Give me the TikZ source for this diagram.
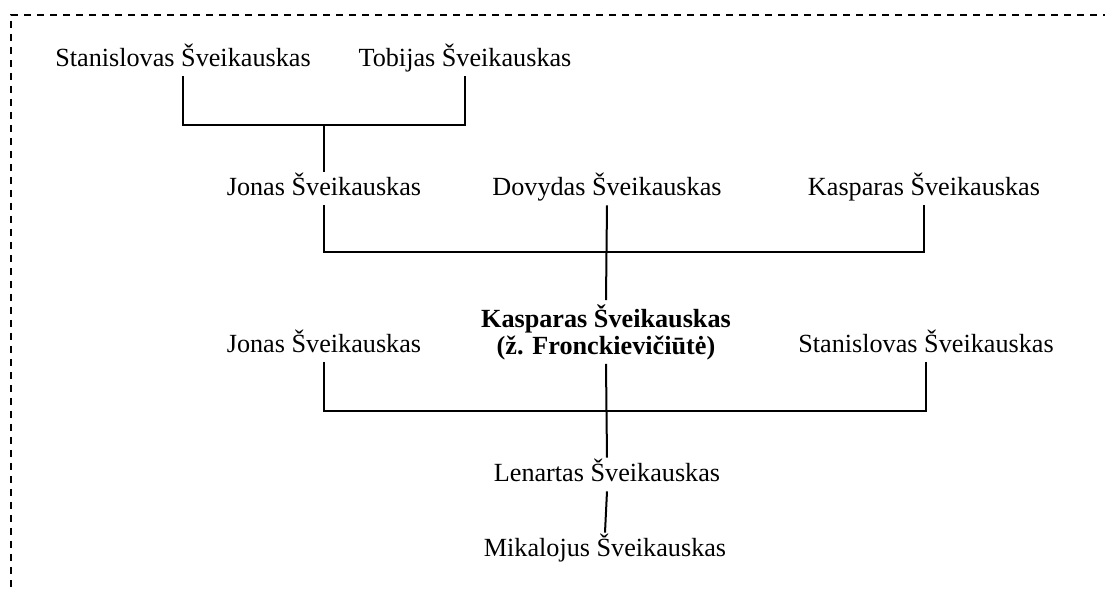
\documentclass[tikz,border=0pt]{standalone}
\usepackage{fontspec}
\setmainfont{Liberation Serif}
\begin{document}
\begin{tikzpicture}[x=0.5pt,y=-0.5pt,
    person/.style={anchor=base,inner sep=0pt,text height=12pt,text depth=4.5pt,
      font=\fontsize{13.1}{13.5}\selectfont},
    mainperson/.style={inner sep=0pt,minimum height=31.5pt,align=center,
      font=\fontsize{13.1}{13.5}\selectfont\bfseries},
    link/.style={line width=1pt},
    frame/.style={line width=0.8pt,dash pattern=on 3.5pt off 3pt}]
    \useasboundingbox (0,0) rectangle (1105,592);
    \draw[frame] (1110,15) -- (11,15) -- (11,600);
    \node[person] (stanA) at (183,67) {Stanislovas Šveikauskas};
    \node[person] (tobA) at (465,67) {Tobijas Šveikauskas};
    \node[person] (jonasA) at (324,196) {Jonas Šveikauskas};
    \node[person] (dovA) at (607,196) {Dovydas Šveikauskas};
    \node[person] (kaspA) at (924,196) {Kasparas Šveikauskas};
    \node[person] (jonasB) at (324,353) {Jonas Šveikauskas};
    \node[mainperson] (kaspB) at (606,332) {Kasparas Šveikauskas\\(ž. Fronckievičiūtė)};
    \node[person] (stanB) at (926,353) {Stanislovas Šveikauskas};
    \node[person] (lenA) at (607,482) {Lenartas Šveikauskas};
    \node[person] (mikA) at (605,557) {Mikalojus Šveikauskas};
    \coordinate (bar1) at (0,125);
    \coordinate (bar2) at (0,252);
    \coordinate (bar3) at (0,411);
    \draw[link] (stanA.south) |- (bar1 -| tobA.south) -- (tobA.south);
    \draw[link] (jonasA.north) -- (bar1 -| jonasA.north);
    \draw[link] (jonasA.south) |- (bar2 -| kaspA.south) -- (kaspA.south);
    \draw[link] (dovA.south) -- (kaspB.north);
    \draw[link] (jonasB.south) |- (bar3 -| stanB.south) -- (stanB.south);
    \draw[link] (kaspB.south) -- (lenA.north);
    \draw[link] (lenA.south) -- (mikA.north);
\end{tikzpicture}
\end{document}
